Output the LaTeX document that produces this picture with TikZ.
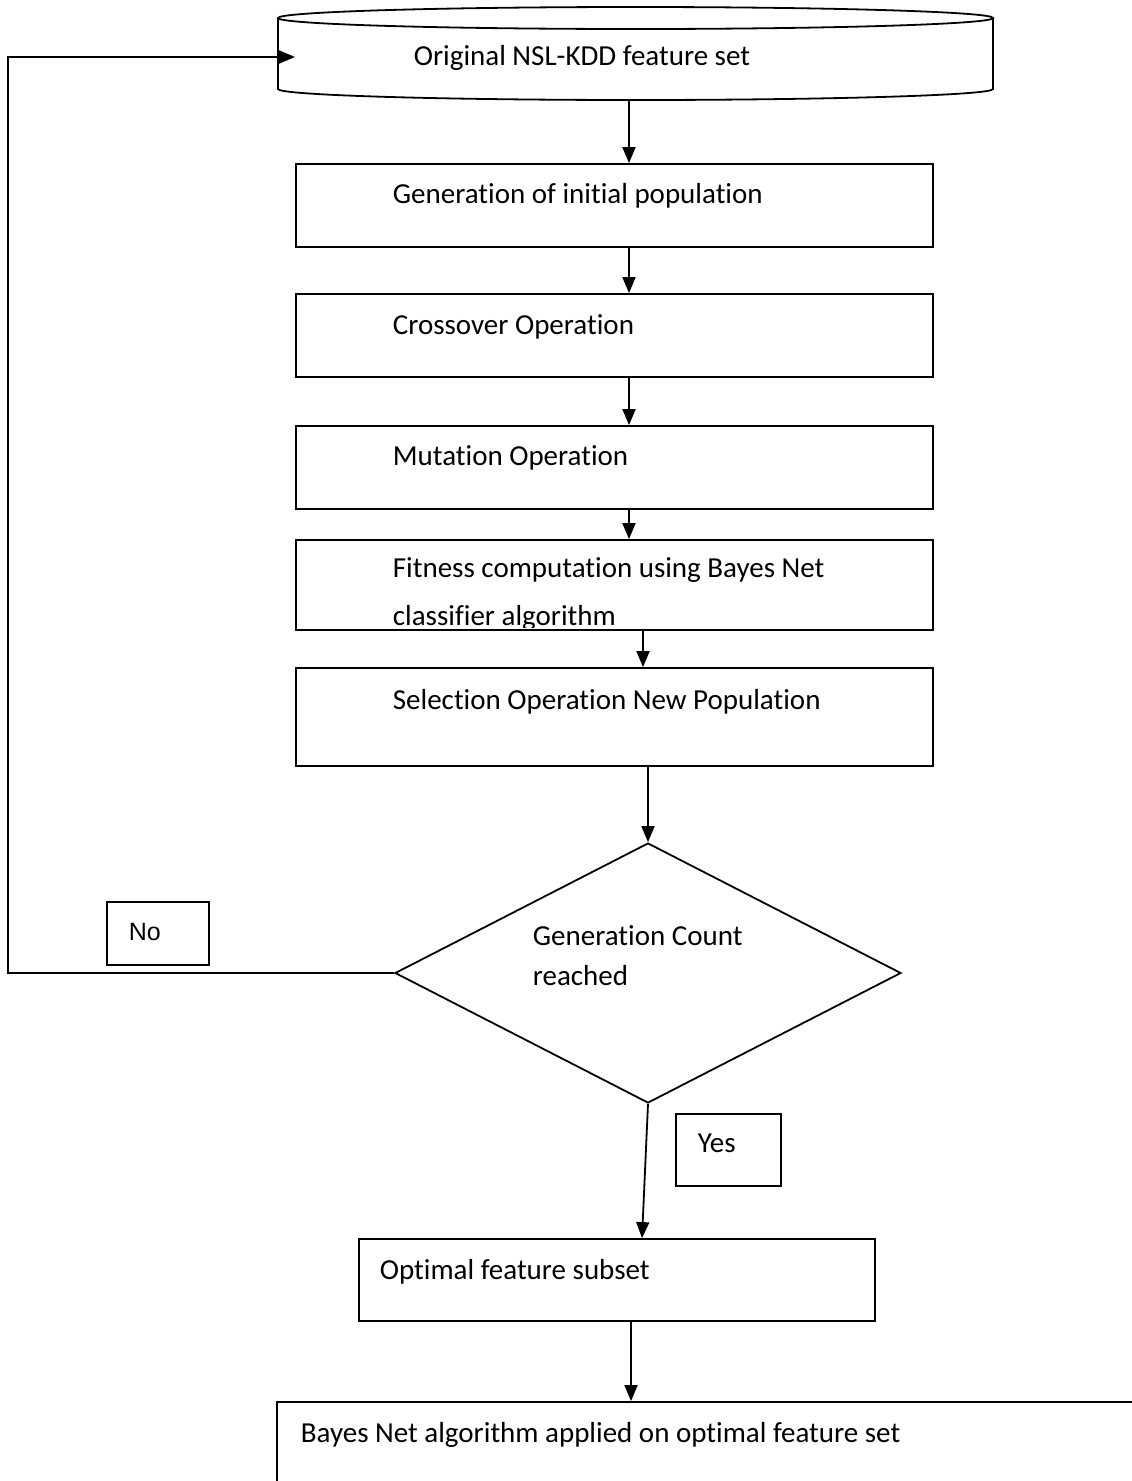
\documentclass[tikz,border=0pt]{standalone}
\usepackage{fontspec}
\setmainfont{Carlito}[Ligatures={NoCommon,NoContextual}]
\newfontfamily\arialf{Liberation Sans}
\usetikzlibrary{arrows.meta,shapes.geometric}
\begin{document}
\begin{tikzpicture}[x=1pt,y=-1pt,line width=1.8pt,
  box/.style={draw,rectangle,inner sep=0pt},
  lbl/.style={inner sep=0pt,anchor=base west,font=\fontsize{29}{35}\selectfont},
  arr/.style={-{Triangle[length=16pt,width=13pt]}}]
\useasboundingbox (0,0) rectangle (1132,1481);
\fill[white] (0,0) rectangle (1132,1481);
% source cylinder
\node[inner sep=0pt,minimum width=715pt,minimum height=93pt] (src) at (635.5,53.5) {};
\draw (635.5,18) ellipse[x radius=357.5, y radius=11];
\draw (278,18) -- (278,89) arc[start angle=180,end angle=0,x radius=357.5,y radius=11] -- (993,18);
\node[lbl] (t0) at (413,65) {Original NSL-KDD feature set};
% process boxes
\node[box,minimum width=637pt,minimum height=83pt] (b1) at (614.5,205.5) {};
\node[lbl] (t1) at (392,203) {Generation of initial population};
\node[box,minimum width=637pt,minimum height=83pt] (b2) at (614.5,335.5) {};
\node[lbl] (t2) at (392,334) {Crossover Operation};
\node[box,minimum width=637pt,minimum height=83pt] (b3) at (614.5,467.5) {};
\node[lbl] (t3) at (392,465) {Mutation Operation};
\node[box,minimum width=637pt,minimum height=90pt] (b4) at (614.5,585) {};
\node[lbl] (t4a) at (392,577) {Fitness computation using Bayes Net};
\begin{scope}
\clip (296,540) rectangle (933,627);
\node[lbl] (t4b) at (392,625) {classifier algorithm};
\end{scope}
\node[box,minimum width=637pt,minimum height=98pt] (b5) at (614.5,717) {};
\node[lbl] (t5) at (392,709) {Selection Operation New Population};
% decision
\node[draw,diamond,inner sep=0pt,minimum width=506pt,minimum height=260pt] (d) at (648,973) {};
\node[lbl] (td1) at (532,945) {Generation Count};
\node[lbl] (td2) at (532,985) {reached};
% No / Yes labels
\node[box,minimum width=102pt,minimum height=63pt] (no) at (158,933.5) {};
\node[lbl,font=\arialf\fontsize{25}{30}\selectfont] (tno) at (128,940) {No};
\node[box,minimum width=105pt,minimum height=72pt] (yes) at (728.5,1150) {};
\node[lbl] (tyes) at (697,1152) {Yes};
% results
\node[box,minimum width=516pt,minimum height=82pt] (b6) at (617,1280) {};
\node[lbl] (t6) at (379,1279) {Optimal feature subset};
\node[box,minimum width=863pt,minimum height=98pt] (b7) at (708.5,1451) {};
\node[lbl] (t7) at (300,1442) {Bayes Net algorithm applied on optimal feature set};
% connectors
\draw[arr] ([xshift=-6.5pt]src.south) -- ([xshift=14.5pt]b1.north);
\draw[arr] ([xshift=14.5pt]b1.south) -- ([xshift=14.5pt]b2.north);
\draw[arr] ([xshift=14.5pt]b2.south) -- ([xshift=14.5pt]b3.north);
\draw[arr] ([xshift=14.5pt]b3.south) -- ([xshift=14.5pt]b4.north);
\draw[arr] ([xshift=28.5pt]b4.south) -- ([xshift=28.5pt]b5.north);
\draw[arr] (b5.south -| d.north) -- (d.north);
\draw[arr] (d.south) -- ([xshift=25pt]b6.north);
\draw[arr] ([xshift=14pt]b6.south) -- ([xshift=-77.5pt]b7.north);
\coordinate (lp1) at (8,973);
\coordinate (lp2) at (8,57);
\coordinate (cin) at (295,57);
\draw[arr] (d.west) -- (lp1) -- (lp2) -- (cin);
\end{tikzpicture}
\end{document}
